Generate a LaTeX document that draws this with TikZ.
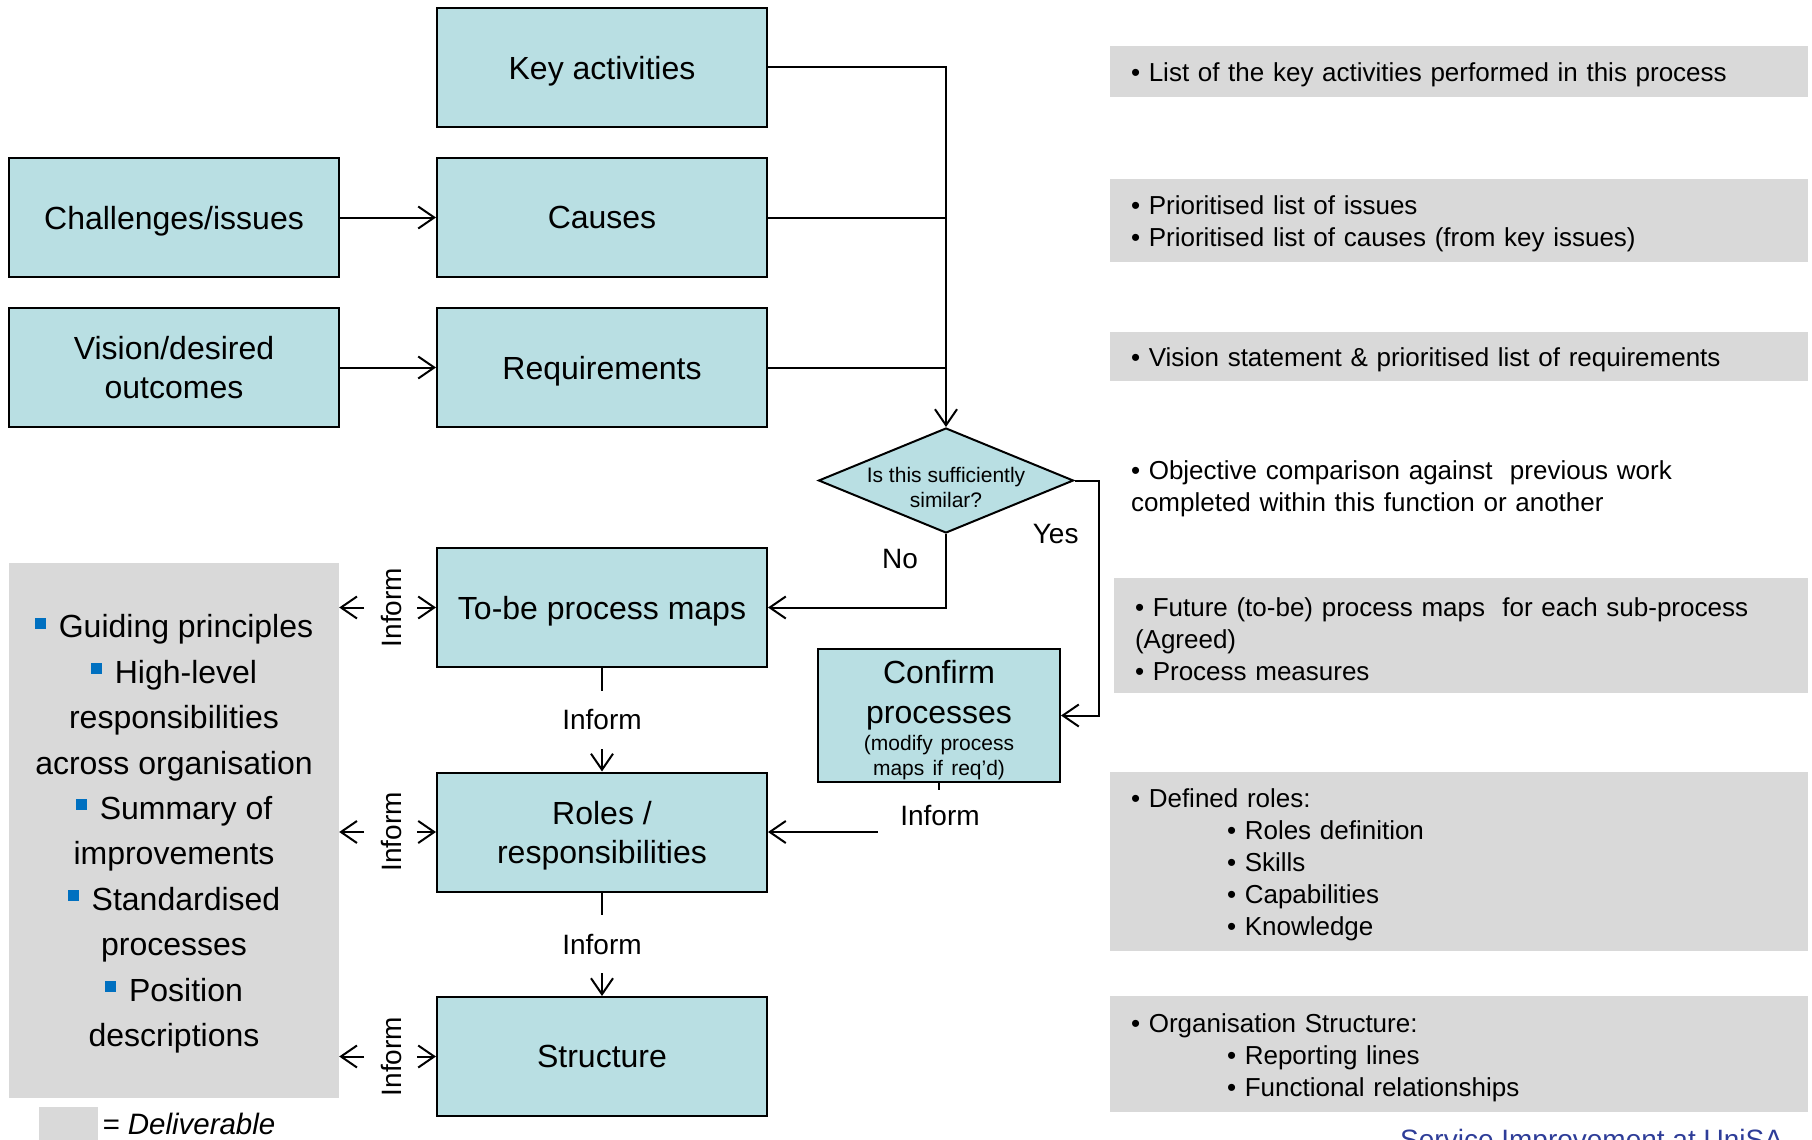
\documentclass[tikz,border=0pt]{standalone}
\usepackage{fontspec}
\setmainfont{Liberation Sans}
\usetikzlibrary{positioning,shapes.geometric,arrows.meta}
\definecolor{boxteal}{HTML}{B9DFE3}
\definecolor{delivgray}{HTML}{D9D9D9}
\definecolor{sqblue}{HTML}{0070C0}
\definecolor{footblue}{HTML}{2E3D98}
\newcommand{\sqbul}{\textcolor{sqblue}{\rule[9pt]{11pt}{11pt}}\hspace{13pt}}

\begin{document}
\begin{tikzpicture}
[x=1pt,y=-1pt,
proc/.style={draw,line width=2pt,fill=boxteal,minimum width=330pt,minimum height=119pt,inner sep=0pt,text depth=0pt,align=center,font=\fontsize{32}{39}\selectfont},
decision/.style={diamond,draw,line width=2pt,fill=boxteal,minimum width=255pt,minimum height=105pt,inner sep=0pt},
flow/.style={line width=2pt,-{Straight Barb[length=16pt,width=22pt]}},
link/.style={line width=2pt},
lbl/.style={inner sep=0pt,font=\fontsize{28}{34}\selectfont},
inform/.style={lbl,fill=white,minimum width=90pt,minimum height=58pt},
outcome/.style={fill=delivgray,minimum width=698pt,text width=656pt,inner xsep=21pt,inner ysep=0pt,text height=26pt,align=left,font=\fontsize{26}{32}\selectfont}]
\useasboundingbox (0,0) rectangle (1812,1140);

% process boxes
\node[proc] (keyact) at (602,67.5) {Key activities};
\node[proc] (causes) at (602,217.5) {Causes};
\node[proc] (challenges) at (174,217.5) {Challenges/issues};
\node[proc] (vision) at (174,367.5) {Vision/desired\\outcomes};
\node[proc] (requirements) at (602,367.5) {Requirements};
\node[decision,label={[lbl,font=\fontsize{21}{25}\selectfont,align=center,yshift=-7pt]center:{Is this sufficiently\\similar?}}] (similar) at (946,480.5) {};
\node[proc] (tobe) at (602,607.5) {To-be process maps};
\node[proc,minimum width=242pt,minimum height=133pt,text width=236pt,text depth=,text height=33pt,font=\fontsize{32}{40}\selectfont] (confirm) at (939,715.5)
  {Confirm\\processes\par\vspace{2pt}{\fontsize{21}{25}\selectfont\spaceskip=0pt (modify process\\maps if req’d)\par}};
\node[proc] (roles) at (602,832) {Roles /\\responsibilities};
\node[proc] (structure) at (602,1056.5) {Structure};

% deliverables
\node[fill=delivgray,minimum width=330pt,minimum height=535pt,text depth=0pt,align=center,font=\fontsize{32}{45.4}\selectfont] (deliv) at (174,830.5)
  {\sqbul Guiding principles\\\sqbul High-level\\responsibilities\\across organisation\\\sqbul Summary of\\improvements\\\sqbul Standardised\\processes\\\sqbul Position\\descriptions};
\node[outcome,minimum height=51pt] (out-key) at (1459,71.5) {• List of the key activities performed in this process};
\node[outcome,minimum height=83pt] (out-causes) at (1459,220.5) {• Prioritised list of issues\\• Prioritised list of causes (from key issues)};
\node[outcome,minimum height=49pt] (out-req) at (1459,356.5) {• Vision statement \& prioritised list of requirements};
\node[outcome,fill=none] (out-similar) at (1459,485.5) {• Objective comparison against\ \ previous work\\completed within this function or another};
\node[outcome,minimum width=694pt,text width=652pt,minimum height=115pt] (out-tobe) at (1461,635.5) {• Future (to-be) process maps\ \ for each sub-process\\(Agreed)\\• Process measures};
\node[outcome,minimum height=179pt] (out-roles) at (1459,861.5) {• Defined roles:\\\hspace*{96pt}• Roles definition\\\hspace*{96pt}• Skills\\\hspace*{96pt}• Capabilities\\\hspace*{96pt}• Knowledge};
\node[outcome,minimum height=116pt] (out-struct) at (1459,1054) {• Organisation Structure:\\\hspace*{96pt}• Reporting lines\\\hspace*{96pt}• Functional relationships};

% connectors
\draw[flow] (keyact.east) -| (similar.north);
\draw[link] (causes.east) -- (causes.east -| similar.north);
\draw[link] (requirements.east) -- (requirements.east -| similar.north);
\draw[flow] (challenges) -- (causes);
\draw[flow] (vision) -- (requirements);
\draw[flow] (similar.south) |- node[lbl,pos=0.17,left=27pt] {No} (tobe.east);
\draw[flow] (similar.east) -- ++(24,0) node[lbl,anchor=north east,xshift=-19pt,yshift=-43pt] {Yes} |- (confirm.east);
\draw[flow] (tobe) -- node[inform] {Inform} (roles);
\draw[flow] (roles) -- node[inform] {Inform} (structure);
\draw[flow] (confirm.south) |- (roles.east);
\node[inform,minimum width=124pt,minimum height=50pt] (confinform) at (940,815) {Inform};
\foreach \b in {tobe,roles,structure}{
  \draw[flow] ([xshift=-19pt]\b.west) -- (\b.west);
  \draw[flow] ([xshift=-72pt]\b.west) -- (deliv.east |- \b.west);
  \node[lbl,rotate=90] (\b-inf) at ([xshift=-44pt]\b.west) {Inform};
}

% legend
\node[fill=delivgray,minimum width=59pt,minimum height=40pt,inner sep=0pt] (legend) at (68.5,1127) {};
\node[lbl,right=4pt of legend,yshift=3pt,font=\fontsize{29.5}{34}\itshape] (legendtext) {= Deliverable};
\node[anchor=base west,text=footblue,inner sep=0pt,font=\fontsize{28}{34}\selectfont] (footer) at (1400,1149) {Service Improvement at UniSA};
\end{tikzpicture}
\end{document}
